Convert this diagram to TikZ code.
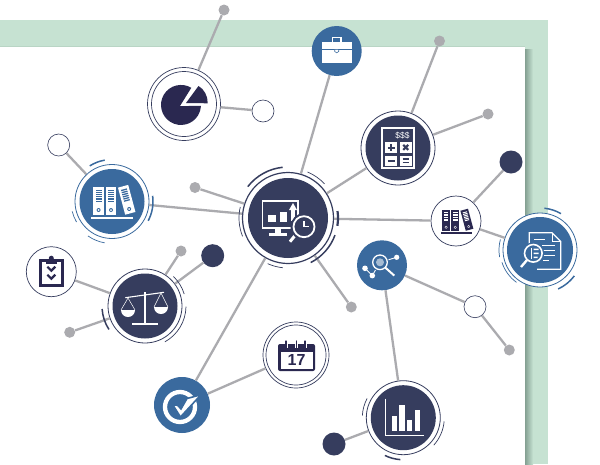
\documentclass[tikz,border=0pt]{standalone}
\usepackage{fontspec}
\setsansfont{Liberation Sans}
\definecolor{ink}{HTML}{363D5E}
\definecolor{plum}{HTML}{2A2850}
\definecolor{steel}{HTML}{3A6A9E}
\definecolor{wire}{HTML}{ABABAF}
\definecolor{mint}{HTML}{C6E2D2}
\definecolor{fold}{HTML}{84A092}

\tikzset{
	wirelink/.style={draw=wire, line width=2.3pt},
	grip/.style={circle, fill=wire, minimum size=11pt, inner sep=0pt},
	blot/.style={circle, fill=ink, minimum size=23pt, inner sep=0pt},
	hollow/.style={circle, draw=ink, line width=.6pt, fill=white, minimum size=22pt, inner sep=0pt},
	badge/.style={circle, fill=steel, minimum size=50pt, inner sep=0pt},
	paleseal/.style={circle, draw=ink, line width=.7pt, fill=white, minimum size=50pt, inner sep=0pt},
	% outer ring with a disc inside
	ringed/.style n args={3}{circle, draw=#1, line width=.8pt, fill=white, minimum size=#2, inner sep=0pt,
		path picture={\fill[#1] (path picture bounding box.center) circle (#3);}},
	% two thin rings
	twinring/.style 2 args={circle, draw=ink, line width=.7pt, fill=white, minimum size=#1, inner sep=0pt,
		path picture={\draw[ink, line width=.7pt] (path picture bounding box.center) circle (#2);}},
	sweep/.style={line width=.7pt},
	sweepbold/.style={line width=1.5pt}
}
% arc around a node: node, start, end, radius, look
\newcommand{\sweeparc}[5]{\draw[#5] (#1.center) ++(#2:#3pt) arc[start angle=#2, end angle=#4, radius=#3pt];}

\begin{document}
\begin{tikzpicture}[x=1pt, y=1pt, yscale=-1]
	\useasboundingbox (0,0) rectangle (600,464);

	% sheet
	\fill[mint] (0,20) rectangle (548,464);
	\fill[mint!80!fold] (0,45.5) rectangle (525,47);
	\shade[left color=fold, right color=mint] (525,49) rectangle (533,464);
	\fill[white] (0,47) rectangle (525,464);

	% big nodes
	\node[ringed={ink}{91pt}{40pt}, line width=1.2pt] (hub) at (288,218) {};
	\node[twinring={73pt}{32.5pt}] (pie) at (184,104) {};
	\node[ringed={steel}{74pt}{32.5pt}] (shelf) at (112,201.5) {};
	\node[ringed={ink}{74pt}{32.5pt}] (calc) at (398,148) {};
	\node[ringed={steel}{74pt}{33pt}] (report) at (540,250) {};
	\node[ringed={ink}{74pt}{32.5pt}] (scales) at (145,306) {};
	\node[ringed={ink}{74pt}{32.5pt}] (chart) at (403.3,417.7) {};
	\node[twinring={66pt}{30pt}] (calendar) at (296,355) {};

	% small nodes
	\node[badge] (case) at (336.7,51) {};
	\node[badge] (lens) at (382,265.3) {};
	\node[badge, minimum size=56pt] (tick) at (182,405) {};
	\node[paleseal] (binders) at (456,221) {};
	\node[paleseal] (clip) at (51.3,271.7) {};

	% end points
	\node[grip] (gripa) at (224,10) {};
	\node[grip] (gripb) at (195,187.5) {};
	\node[grip] (gripc) at (439.5,41) {};
	\node[grip] (gripd) at (488,114) {};
	\node[grip] (gripe) at (351.3,307) {};
	\node[grip] (gripf) at (509.3,350) {};
	\node[grip] (gripg) at (181,251) {};
	\node[grip] (griph) at (69.7,332.3) {};
	\node[blot] (blota) at (511,162) {};
	\node[blot] (blotb) at (212.7,255.7) {};
	\node[blot] (blotc) at (334,444) {};
	\node[hollow] (holea) at (263,111) {};
	\node[hollow] (holeb) at (58.7,145) {};
	\node[hollow] (holec) at (475,306.7) {};

	% connectors
	\draw[wirelink] (pie) -- (gripa);
	\draw[wirelink] (pie) -- (holea);
	\draw[wirelink] (shelf) -- (holeb);
	\draw[wirelink] (shelf) -- (hub);
	\draw[wirelink] (hub) -- (gripb);
	\draw[wirelink] (hub) -- (case);
	\draw[wirelink] (hub) -- (calc);
	\draw[wirelink] (hub) -- (binders);
	\draw[wirelink] (hub) -- (gripe);
	\draw[wirelink] (hub) -- (tick);
	\draw[wirelink] (calc) -- (gripc);
	\draw[wirelink] (calc) -- (gripd);
	\draw[wirelink] (binders) -- (blota);
	\draw[wirelink] (binders) -- (report);
	\draw[wirelink] (lens) -- (holec);
	\draw[wirelink] (holec) -- (gripf);
	\draw[wirelink] (lens) -- (chart);
	\draw[wirelink] (chart) -- (blotc);
	\draw[wirelink] (scales) -- (gripg);
	\draw[wirelink] (scales) -- (blotb);
	\draw[wirelink] (scales) -- (griph);
	\draw[wirelink] (scales) -- (clip);
	\draw[wirelink] (tick) -- (calendar);

	% arcs
	\sweeparc{hub}{218}{51}{264}{ink, sweepbold}
	\sweeparc{hub}{293}{50}{317}{ink, sweep}
	\sweeparc{hub}{-8}{50}{9}{ink, line width=2.2pt}
	\sweeparc{hub}{20}{50}{63}{ink, sweepbold}
	\sweeparc{hub}{96}{50}{114}{ink, sweep}
	\sweeparc{hub}{158}{49}{193}{ink, sweep}
	\sweeparc{shelf}{238}{42}{260}{steel, sweepbold}
	\sweeparc{shelf}{-8}{41}{28}{steel, sweepbold}
	\sweeparc{shelf}{150}{41}{166}{steel, sweep}
	\sweeparc{shelf}{100}{42}{125}{steel, sweep}
	\sweeparc{scales}{314}{41}{343}{ink, sweep}
	\sweeparc{scales}{1}{41}{61}{ink, sweep}
	\sweeparc{scales}{147}{43}{176}{ink, sweepbold}
	\sweeparc{chart}{183}{41}{208}{ink, sweep}
	\sweeparc{chart}{5}{41}{42}{ink, sweep}
	\sweeparc{chart}{94}{42}{116}{ink, sweepbold}
	\sweeparc{report}{276}{42}{300}{steel, sweepbold}
	\sweeparc{report}{126}{40}{162}{steel, sweep}
	\sweeparc{report}{37}{43}{65}{steel, sweepbold}
	\sweeparc{report}{170}{41}{195}{steel, sweep}

	% pie
	\begin{scope}[shift={(pie.center)}]
		\fill[plum] (-4,2) -- (7.3,-16.2) arc[start angle=-59, end angle=-357, radius=20] -- cycle;
		\fill[plum] (2,-1) -- (14.5,-18) .. controls (20,-15) and (24,-8) .. (23.7,-.7) -- cycle;
	\end{scope}

	% shelf of binders
	\newcommand{\binderset}[2]{
		\foreach \bx in {-18.7,-6.3} {
			\fill[#1] (\bx,-15) rectangle (\bx+10.7,13);
			\foreach \by in {-12,-9.8,-7.6,-5.4,-3.2,-1} \fill[#2] (\bx+2.2,\by) rectangle (\bx+8.5,\by+1.3);
			\fill[#2] (\bx+5.3,8.5) circle (2);
			\fill[#1] (\bx+5.3,8.5) circle (1);
		}
		\begin{scope}[shift={(14.7,-1.7)}, rotate=-15]
			\fill[#1] (-5.3,-14) rectangle (5.3,14);
			\foreach \by in {-11,-8.8,-6.6,-4.4,-2.2,0} \fill[#2] (-3,\by) rectangle (3,\by+1.3);
			\fill[#2] (0,9.5) circle (2);
			\fill[#1] (0,9.5) circle (1);
		\end{scope}
		\fill[#1] (-20.7,15) rectangle (21,17);
	}
	\begin{scope}[shift={(shelf.center)}]
		\binderset{white}{steel}
	\end{scope}
	\begin{scope}[shift={(binders.center)}, scale=.74]
		\binderset{plum}{white}
	\end{scope}

	% hub screen
	\begin{scope}[shift={(hub.center)}]
		\draw[white, line width=1.6pt] (-25.7,-17.3) rectangle (10,10);
		\fill[white] (-19.7,-3) rectangle (-12.3,3.7);
		\fill[white] (-8,-6.3) rectangle (-.7,3.7);
		\fill[white] (3,-8) rectangle (7,3);
		\fill[white] (1,-8) -- (5,-15) -- (9,-8) -- cycle;
		\fill[white] (-13,10) rectangle (-7,15);
		\fill[white] (-19,15) rectangle (-1,18);
		\draw[white, line width=3pt] (9,15) -- (2,23.7);
		\fill[ink] (16,8.7) circle (13.5);
		\draw[white, line width=1.8pt] (16,8.7) circle (10.5);
		\draw[white, line width=1.2pt] (16,3) -- (16,8.7) -- (21,8.7);
	\end{scope}

	% briefcase
	\begin{scope}[shift={(case.center)}]
		\draw[white, line width=1.5pt] (-4.3,-9) -- (-4.3,-13.3) -- (4.3,-13.3) -- (4.3,-9);
		\fill[white] (-14.7,-9.3) rectangle (15.3,12.3);
		\fill[steel] (-14.7,-2.2) rectangle (15.3,-1.2);
		\draw[steel, line width=.6pt, fill=white] (-2,-1.7) -- (2,-1.7) -- (2,.5) -- (0,1.8) -- (-2,.5) -- cycle;
	\end{scope}

	% calculator
	\begin{scope}[shift={(calc.center)}]
		\draw[white, line width=1.2pt] (-16,-20) rectangle (16,20);
		\node[white, font=\sffamily\fontsize{8.5}{8.5}\selectfont, inner sep=0pt] (money) at (4.5,-12.5) {\$\$\$};
		\fill[white] (-13,-6.5) rectangle (-1,5);
		\fill[white] (2,-6.5) rectangle (13.5,5);
		\fill[white] (-13,7.5) rectangle (-1,18);
		\fill[white] (2,7.5) rectangle (13.5,18);
		\draw[ink, line width=2pt] (-7,-4) -- (-7,3) (-10.5,-.5) -- (-3.5,-.5);
		\draw[ink, line width=2pt] (5.2,-3.2) -- (10.3,1.9) (5.2,1.9) -- (10.3,-3.2);
		\draw[ink, line width=2pt] (-10.5,12.7) -- (-3.5,12.7);
		\draw[ink, line width=1.5pt] (4.5,11) -- (11,11) (4.5,14.5) -- (11,14.5);
	\end{scope}

	% report with lens
	\begin{scope}[shift={(report.center)}]
		\draw[white, line width=1.2pt] (-10.7,-5) -- (-10.7,-17.3) -- (12,-17.3) -- (20.7,-8.5) -- (20.7,19.3) -- (-3,19.3);
		\draw[white, line width=.8pt] (12,-17.3) -- (12,-8.5) -- (20.7,-8.5);
		\draw[white, line width=1pt] (-6,-11) -- (5,-11) (2,-5) -- (15,-5) (3,0) -- (15,0) (3,5) -- (15,5) (3,10) -- (9,10);
		\fill[steel] (-6.7,3.3) circle (11);
		\draw[white, line width=1.6pt] (-6.7,3.3) circle (8.8);
		\draw[white, line width=2.4pt] (-13,10) -- (-19,17);
		\fill[white] (-9.5,-2) rectangle (-8,8.5);
		\fill[white] (-6.5,-1.5) rectangle (-1.5,.2) (-6.5,2.5) rectangle (-1.5,4.2) (-6.5,6.5) rectangle (-2.5,8);
	\end{scope}

	% scales
	\begin{scope}[shift={(scales.center)}]
		\draw[white, line width=1.6pt] (0,-14) -- (0,17.7);
		\draw[white, line width=2pt] (-13,18.4) -- (12.5,18.4);
		\draw[white, line width=1.1pt] (-19.7,-8.3) -- (19,-13.7);
		\draw[white, line width=.5pt] (-24,4) -- (-17,-8) -- (-10,4) (9,1) -- (16,-13) -- (23,1);
		\fill[white] (-24,4) arc[start angle=180, end angle=0, radius=7] -- cycle;
		\fill[white] (9,1) arc[start angle=180, end angle=0, radius=7] -- cycle;
	\end{scope}

	% clipboard
	\begin{scope}[shift={(clip.center)}]
		\draw[plum, line width=2.8pt] (-11,-11) rectangle (11,14);
		\fill[plum] (-5.5,-13) rectangle (5.5,-8);
		\fill[plum] (0,-13.5) circle (2.5);
		\draw[plum, line width=2.2pt] (-4,-5) -- (0,-1) -- (4,-5) (-4,3) -- (0,7) -- (4,3);
	\end{scope}

	% lens with small graph
	\begin{scope}[shift={(lens.center)}]
		\draw[white, line width=.9pt] (-2,-3) -- (14.7,-8) (-2,-3) -- (-9.7,10.3) -- (-17,3);
		\fill[steel] (-2,-3) circle (9);
		\draw[white, line width=1.3pt] (-2,-3) circle (7.3);
		\fill[white!55!steel] (-2,-3) circle (4);
		\draw[white, line width=2pt] (3.5,2.5) -- (12.3,10.3);
		\foreach \nx/\ny/\nr in {14.7/-8/2.6,-17/3/2.8,-9.7/10.3/2.8} \fill[white] (\nx,\ny) circle (\nr);
	\end{scope}

	% calendar
	\begin{scope}[shift={(calendar.center)}]
		\fill[plum, rounded corners=2pt] (-18,-11) rectangle (19,16);
		\fill[white] (-15.5,-3.5) rectangle (16.5,13.5);
		\foreach \rx in {-10,.7,9} \draw[plum, line width=1.3pt, line cap=round, preaction={draw=white, line width=3pt}] (\rx,-14) -- (\rx,-7);
		\node[plum, font=\sffamily\bfseries\fontsize{16}{16}\selectfont, inner sep=0pt] (date) at (.5,5) {17};
	\end{scope}

	% bars
	\begin{scope}[shift={(chart.center)}]
		\draw[white, line width=1.2pt] (-18,-19) -- (-18,17.7) -- (20.7,17.7);
		\fill[white] (-11.3,-1.7) rectangle (-6,13);
		\fill[white] (-4,-12.3) rectangle (1.3,13);
		\fill[white] (3.3,2.7) rectangle (8.7,13);
		\fill[white] (11.3,-8) rectangle (16.3,13);
	\end{scope}

	% tick
	\begin{scope}[shift={(tick.center)}]
		\draw[white, line width=4.3pt] (-2,2) circle (15);
		\filldraw[fill=white, draw=steel, line width=1.6pt] (-9.3,-.3) -- (-4.3,.3) -- (-1,4) -- (5,-6.5) -- (19,-10.3) -- (-1.5,12) -- cycle;
	\end{scope}
\end{tikzpicture}
\end{document}
